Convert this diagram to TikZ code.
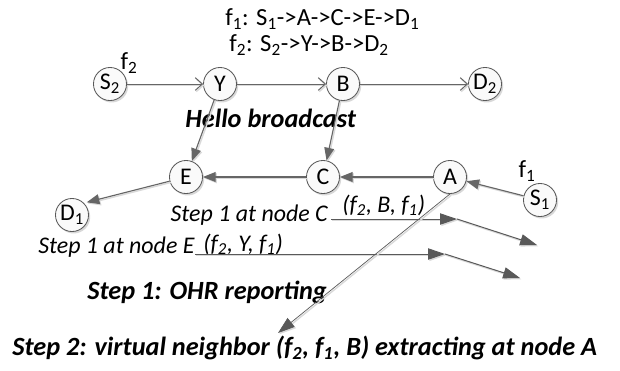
\documentclass[tikz,border=0pt]{standalone}
\usepackage{fontspec}
\setmainfont{Carlito}
\usetikzlibrary{arrows.meta,shadows}

\begin{document}
\begin{tikzpicture}[x=0.025cm, y=-0.025cm,
  vnode/.style={circle, draw=black!65, fill=gray!4, line width=0.6pt,
                minimum size=23.5pt, inner sep=0pt, font=\fontsize{17}{17}\selectfont,
                drop shadow={shadow xshift=1.2pt, shadow yshift=-1.4pt,
                             fill=black!30, opacity=0.5}},
  shade line/.style={preaction={draw=black!15, line width=1pt,
                     transform canvas={shift={(0.9pt,-0.9pt)}}}},
  flow/.style={draw=black!60, line width=0.7pt,
               -{Straight Barb[length=5pt,width=9pt]}, shade line},
  link/.style={draw=black!60, line width=0.8pt,
               -{Triangle[length=9pt,width=7pt]}, shade line},
  report/.style={draw=black!65, line width=0.7pt,
                 -{Triangle[length=12pt,width=8pt]}, shade line},
  route/.style={font=\fontsize{17.5}{19}\selectfont, inner sep=0pt},
  steptxt/.style={font=\fontsize{17}{19}\selectfont\itshape, inner sep=0pt},
  heading/.style={font=\fontsize{18.7}{20}\selectfont\bfseries\itshape, inner sep=0pt},
]
  \useasboundingbox (0,0) rectangle (620,370);

  % Flow routes across top
  \node[route, anchor=west] (flowone) at (225,19)
       {f\textsubscript{1}: S\textsubscript{1}->A->C->E->D\textsubscript{1}};
  \node[route, anchor=west] (flowtwo) at (229,45)
       {f\textsubscript{2}: S\textsubscript{2}->Y->B->D\textsubscript{2}};

  % Upper row: flow f2
  \node[vnode] (S2) at (110,84) {S\textsubscript{2}};
  \node[vnode] (Y)  at (220,84) {Y};
  \node[vnode] (B)  at (343,84) {B};
  \node[vnode] (D2) at (485,84) {D\textsubscript{2}};
  \node[route] (ftwo) at (129,63) {f\textsubscript{2}};

  % Lower row: flow f1
  \node[vnode] (E)  at (186,177) {E};
  \node[vnode] (C)  at (323,177) {C};
  \node[vnode] (A)  at (450,177) {A};
  \node[vnode] (S1) at (540,200) {S\textsubscript{1}};
  \node[vnode] (D1) at (72,215)  {D\textsubscript{1}};
  \node[route] (fone) at (527,171) {f\textsubscript{1}};

  \node[heading, anchor=west] (hello) at (185,118) {Hello broadcast};

  \draw[flow] (S2) -- (Y);
  \draw[flow] (Y) -- (B);
  \draw[flow] (B) -- (D2);

  \draw[link] (Y) -- (E);
  \draw[link] (B) -- (C);
  \draw[link] (S1) -- (A);
  \draw[link] (A) -- (C);
  \draw[link] (C) -- (E);
  \draw[link, shorten >=2pt] (E) -- (D1.north east);

  % ===== Step 1: OHR reports sent by C and E =====
  \node[steptxt, anchor=base east] (stepC) at (328,221) {Step 1 at node C};
  \node[steptxt, anchor=base west] (tagC) at (342,212)
       {(f\textsubscript{2}, B, f\textsubscript{1})};
  \node[steptxt, anchor=base west] (stepE) at (38,253) {Step 1 at node E};
  \node[steptxt, anchor=base west] (tagE) at (203,251)
       {(f\textsubscript{2}, Y, f\textsubscript{1})};

  \coordinate (kneeC) at (457,219);
  \coordinate (endC)  at (537,245);
  \coordinate (kneeE) at (445,254);
  \coordinate (endE)  at (520,278);

  \draw[report] (stepC.east |- kneeC) ++(3,0) -- (kneeC);
  \draw[report] (kneeC) -- (endC);
  \draw[report] (stepE.east |- kneeE) -- (kneeE);
  \draw[report] (kneeE) -- (endE);

  \node[heading, anchor=west] (ohr) at (87,292) {Step 1: OHR reporting};

  % ===== Step 2: A extracts the virtual neighbor =====
  \coordinate (tipA) at (278,333);
  \draw[report, line width=0.5pt] (A.south) -- (tipA);

  \node[heading, anchor=west] (extract) at (12,348)
       {Step 2: virtual neighbor (f\textsubscript{2}, f\textsubscript{1}, B) extracting at node A};

\end{tikzpicture}
\end{document}
